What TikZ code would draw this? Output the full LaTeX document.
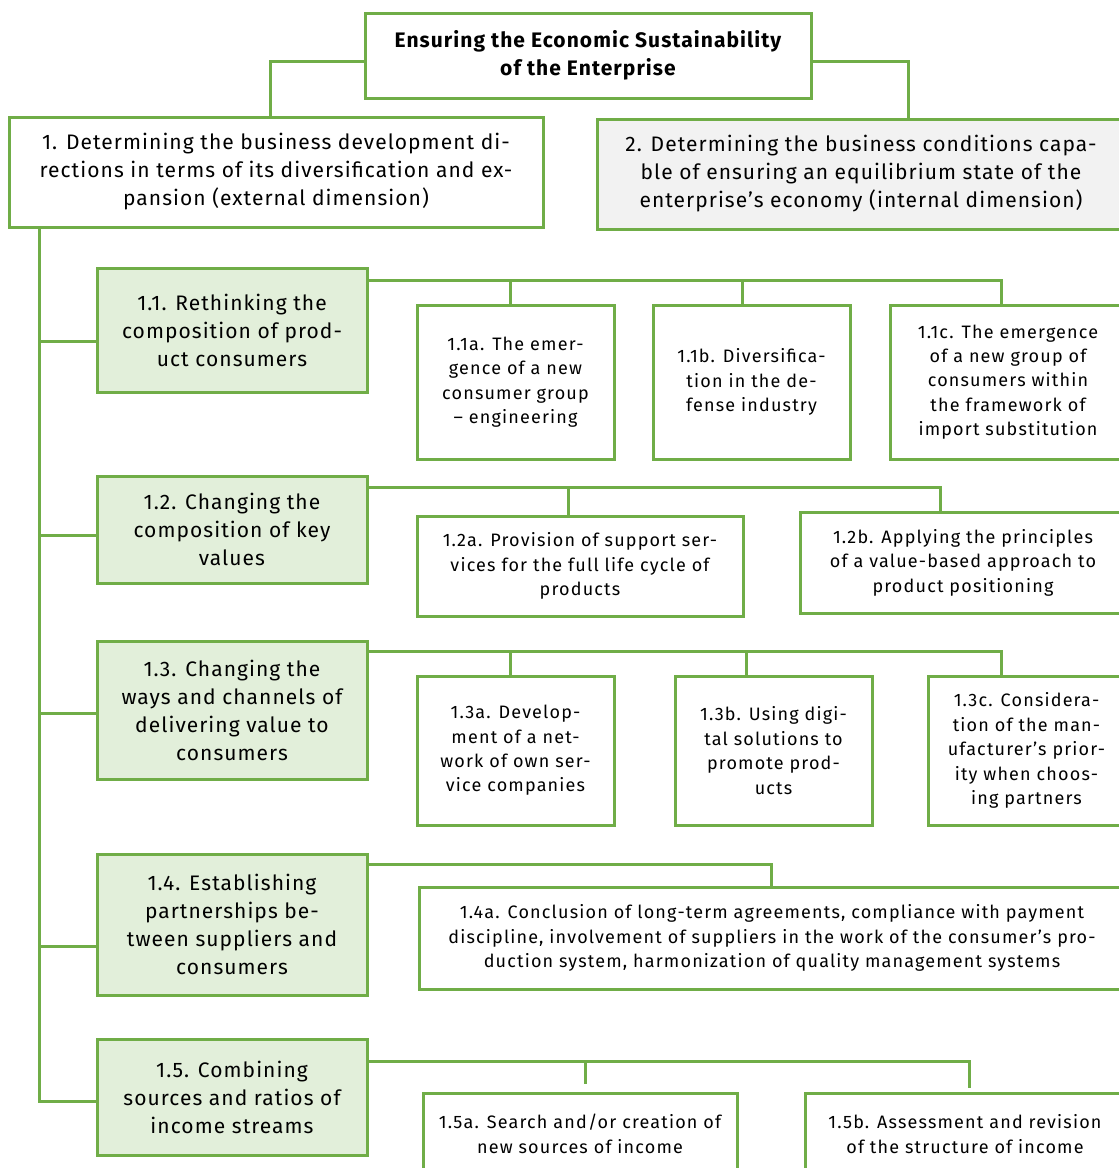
\documentclass[tikz,border=0pt]{standalone}
\usepackage{fontspec}
\setmainfont{Fira Sans}
\usetikzlibrary{positioning}
\definecolor{leafgreen}{HTML}{70AD47}
\definecolor{palegreen}{HTML}{E2EFDA}
\definecolor{palegrey}{HTML}{F2F2F2}
\tikzset{
        box/.style 2 args={
          draw=leafgreen, line width=1.5pt, inner sep=0pt, align=center,
          minimum width=#1*0.5pt, minimum height=#2*0.5pt
          },
        goalbox/.style={fill=white, font=\bfseries\fontsize{10.5}{14}\selectfont\addfontfeature{LetterSpace=5}},
        dirbox/.style={fill=white, font=\fontsize{10.5}{14}\selectfont\addfontfeature{LetterSpace=5}},
        subbox/.style={fill=palegreen, font=\fontsize{10.5}{14}\selectfont\addfontfeature{LetterSpace=5}},
        actbox/.style={fill=white, font=\fontsize{9}{12.2}\selectfont\addfontfeature{LetterSpace=6.5}},
        link/.style={draw=leafgreen, line width=1.5pt},
}
\begin{document}
\begin{tikzpicture}[x=0.5pt, y=-0.5pt]
      \useasboundingbox (0,0) rectangle (1119,1168);
      \clip (0,0) rectangle (1119,1168);
      % GOAL AND THE TWO DIMENSIONS
      \node[box={446}{85}, goalbox] (goal) at (588,55.5) {Ensuring the Economic Sustainability\\of the Enterprise};
      \node[box={534}{110}, dirbox] (dir1) at (276,172) {1. Determining the business development di-\\rections in terms of its diversification and ex-\\pansion (external dimension)};
      \node[box={528}{110}, dirbox, fill=palegrey] (dir2) at (861,174) {2. Determining the business conditions capa-\\ble of ensuring an equilibrium state of the\\enterprise's economy (internal dimension)};

      % SUB-DIRECTIONS
      \node[box={270}{124}, subbox] (s11) at (232,330) {1.1. Rethinking the\\composition of prod-\\uct consumers};
      \node[box={270}{107}, subbox] (s12) at (232,529.5) {1.2. Changing the\\composition of key\\values};
      \node[box={270}{138}, subbox] (s13) at (232,710) {1.3. Changing the\\ways and channels of\\delivering value to\\consumers};
      \node[box={270}{141}, subbox] (s14) at (232,924.5) {1.4. Establishing\\partnerships be-\\tween suppliers and\\consumers};
      \node[box={270}{116}, subbox] (s15) at (232,1097) {1.5. Combining\\sources and ratios of\\income streams};

      % ACTIONS
      \node[box={197}{154}, actbox] (a11a) at (515.5,382) {1.1a. The emer-\\gence of a new\\consumer group\\-- engineering};
      \node[box={197}{154}, actbox] (a11b) at (751.5,382) {1.1b. Diversifica-\\tion in the de-\\fense industry};
      \node[box={236}{154}, actbox] (a11c) at (1008,382) {1.1c. The emergence\\of a new group of\\consumers within\\the framework of\\import substitution};
      \node[box={326}{100}, actbox] (a12a) at (580,566) {1.2a. Provision of support ser-\\vices for the full life cycle of\\products};
      \node[box={326}{101}, actbox] (a12b) at (963,562.5) {1.2b. Applying the principles\\of a value-based approach to\\product positioning};
      \node[box={197}{149}, actbox] (a13a) at (515.5,750.5) {1.3a. Develop-\\ment of a net-\\work of own ser-\\vice companies};
      \node[box={197}{149}, actbox] (a13b) at (773.5,750.5) {1.3b. Using digi-\\tal solutions to\\promote prod-\\ucts};
      \node[box={197}{149}, actbox] (a13c) at (1026.5,750.5) {1.3c. Considera-\\tion of the man-\\ufacturer's prior-\\ity when choos-\\ing partners};
      \node[box={706}{102}, actbox] (a14a) at (772,938) {1.4a. Conclusion of long-term agreements, compliance with payment\\discipline, involvement of suppliers in the work of the consumer's pro-\\duction system, harmonization of quality management systems};
      \node[box={314}{82}, actbox] (a15a) at (580,1134) {1.5a. Search and/or creation of\\new sources of income};
      \node[box={320}{82}, actbox] (a15b) at (965,1134) {1.5b. Assessment and revision\\of the structure of income};

      % WIRING
      % goal to dimensions
      \draw[link] ([yshift=-3pt]goal.west) -| ([xshift=-3pt]dir1.north);
      \draw[link] ([yshift=-3pt]goal.east) -| ([xshift=23.5pt]dir2.north);
      % trunk to sub-directions
      \coordinate (trunk) at ([xshift=16pt]dir1.south west);
      \foreach \s/\dy in {s11/-5.5, s12/-2.75, s13/-1.5, s14/-10.75, s15/-2}
        \coordinate (\s-in) at ([yshift=\dy pt]\s.west);
      \draw[link] (trunk) |- (s15-in);
      \foreach \s in {s11,s12,s13,s14}
        \draw[link] (\s-in) -- (\s-in -| trunk);
      % sub-directions to actions
      \coordinate (s11-bus) at ([yshift=-7pt]s11.north east);
      \coordinate (s12-bus) at ([yshift=-6.5pt]s12.north east);
      \coordinate (s13-bus) at ([yshift=-6pt]s13.north east);
      \coordinate (s14-bus) at ([yshift=-6pt]s14.north east);
      \coordinate (s15-bus) at ([yshift=-12pt]s15.north east);
      \foreach \c/\dx/\dy in {a11a/-2.75/0, a11b/-4.75/0, a11c/-3.5/0, a12a/-6/0, a12b/-11.5/0,
                              a13a/-2.75/0, a13b/-13.75/0, a13c/-12.75/0, a14a/-0.5/0,
                              a15a/2.5/4, a15b/2/2}
        \coordinate (\c-top) at ([xshift=\dx pt, yshift=\dy pt]\c.north);
      \draw[link] (s11-bus) -| (a11c-top);
      \draw[link] (a11a-top) -- (a11a-top |- s11-bus);
      \draw[link] (a11b-top) -- (a11b-top |- s11-bus);
      \draw[link] (s12-bus) -| (a12b-top);
      \draw[link] (a12a-top) -- (a12a-top |- s12-bus);
      \draw[link] (s13-bus) -| (a13c-top);
      \draw[link] (a13a-top) -- (a13a-top |- s13-bus);
      \draw[link] (a13b-top) -- (a13b-top |- s13-bus);
      \draw[link] (s14-bus) -| (a14a-top);
      \draw[link] (s15-bus) -| (a15b-top);
      \draw[link] (a15a-top) -- (a15a-top |- s15-bus);
\end{tikzpicture}
\end{document}
